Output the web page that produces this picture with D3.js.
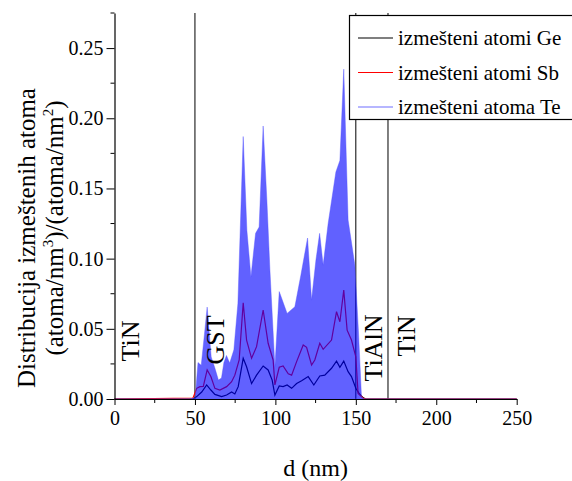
<!DOCTYPE html>
<html><head><meta charset="utf-8">
<script src="https://cdn.jsdelivr.net/npm/d3@7"></script>
<style>body{margin:0;background:#fff}svg{display:block}text{font-family:"Liberation Serif","Times New Roman",serif}</style>
</head><body>
<script>
// Te distribution (nm, value)
const teX = [0,46.9,50.2,51.9,53.9,55.9,57.6,60.1,62.4,64.6,66.5,68.0,69.6,71.6,74.2,76.7,80.0,82.3,84.8,87.7,89.9,92.4,94.7,96.6,99.7,102.4,107.3,112.1,115.8,120.0,122.5,125.2,127.5,129.7,132.8,137.6,140.1,142.5,145.2,147.5,149.4,151.6,153.5,155,250];
const teY = [0,0,0.001,0.026,0.024,0.046,0.0655,0.030,0.022,0.0135,0.015,0.026,0.031,0.0256,0.035,0.068,0.187,0.120,0.087,0.118,0.1225,0.1945,0.142,0.092,0.023,0.0765,0.061,0.0657,0.088,0.1147,0.0705,0.099,0.118,0.0954,0.125,0.1617,0.170,0.235,0.1275,0.11,0.0954,0.049,0.002,0,0];
// Sb distribution
const sbX = [0,48.8,51.1,53.1,55.2,57.6,59.9,62.4,65.5,69.7,72.8,74.8,77.5,80.0,82.1,85.2,88.3,92.4,95.5,98.6,99.7,102.4,104.8,108.0,110.1,113.2,117.3,119.4,122.5,124.5,127.6,129.7,134.9,138.0,140.1,142.5,144.6,147.3,150.0,151.4,154.5,156,250];
const sbY = [0,0.0007,0.0076,0.0088,0.009,0.0207,0.016,0.0076,0.0064,0.0088,0.0123,0.017,0.0278,0.0686,0.042,0.029,0.0373,0.0634,0.0397,0.0278,0.010,0.0226,0.0235,0.018,0.017,0.0266,0.0385,0.0368,0.0242,0.0278,0.0397,0.0354,0.042,0.0622,0.055,0.0776,0.049,0.042,0.030,0.004,0.0007,0,0];
// Ge distribution
const geX = [0,48.8,51.1,54.2,57.3,59.9,62.4,66.6,69.7,72.8,74.8,76.9,80.0,82.1,85.2,88.3,92.4,95.5,98.0,99.7,102.4,104.8,107.3,110.1,113.2,116.3,120.4,123.9,127.6,130.7,134.9,138.0,140.1,142.5,145.2,147.3,150.0,152.0,154.5,156,250];
const geY = [0,0,0.0017,0.005,0.010,0.0064,0.0033,0.0017,0.0028,0.005,0.0036,0.0088,0.029,0.023,0.011,0.017,0.0235,0.0207,0.0135,0.0028,0.0093,0.0088,0.010,0.0076,0.011,0.013,0.016,0.010,0.0164,0.017,0.0219,0.027,0.0226,0.027,0.0195,0.016,0.0076,0.004,0.001,0,0];

const xTicks = [0,50,100,150,200,250];
const yTicks = [0,0.05,0.10,0.15,0.20,0.25];
const boundaries = [50,150,170];
const regionLabels = ["TiN","GST","TiAlN","TiN"];
const legendLabels = ["izmešteni atomi Ge","izmešteni atomi Sb","izmešteni atoma Te"];

const W = 572, H = 481;
const m = {left:114.5, top:13, right:55.3, bottom:82};
const svg = d3.select("body").append("svg").attr("width",W).attr("height",H);
const x = d3.scaleLinear().domain([0,250]).range([m.left, W-m.right]);
const y = d3.scaleLinear().domain([0,0.275]).range([H-m.bottom, m.top]);

const pts = (xs,ys)=>xs.map((v,i)=>[v,ys[i]]);
const line = d3.line().x(d=>x(d[0])).y(d=>y(d[1]));
const area = d3.area().x(d=>x(d[0])).y0(y(0)).y1(d=>y(d[1]));

// boundary lines
svg.selectAll("line.b").data(boundaries).join("line")
  .attr("x1",d=>x(d)).attr("x2",d=>x(d)).attr("y1",y(0.275)).attr("y2",y(0))
  .attr("stroke","#000").attr("stroke-width",1);

svg.append("path").datum(pts(geX,geY)).attr("d",line).attr("fill","none").attr("stroke","#000").attr("stroke-width",1.2);
svg.append("path").datum(pts(sbX,sbY)).attr("d",line).attr("fill","none").attr("stroke","#f00").attr("stroke-width",1.2);
svg.append("path").datum(pts(teX,teY)).attr("d",area).attr("fill","rgb(0,0,255)").attr("fill-opacity",0.62)
  .attr("stroke","rgb(80,80,255)").attr("stroke-opacity",0.5).attr("stroke-width",0.8);

// axes
const xAxis = svg.append("g").attr("transform",`translate(0,${y(0)})`)
  .call(d3.axisBottom(x).tickValues(xTicks).tickFormat(d3.format("d")).tickSize(6).tickSizeOuter(0));
xAxis.append("g").selectAll("line").data([25,75,125,175,225]).join("line")
  .attr("x1",d=>x(d)).attr("x2",d=>x(d)).attr("y1",0).attr("y2",4).attr("stroke","#000");
const yAxis = svg.append("g").attr("transform",`translate(${x(0)},0)`)
  .call(d3.axisLeft(y).tickValues(yTicks).tickFormat(d3.format(".2f")).tickSize(8).tickSizeOuter(0));
yAxis.append("g").selectAll("line").data([0.025,0.075,0.125,0.175,0.225,0.275]).join("line")
  .attr("y1",d=>y(d)).attr("y2",d=>y(d)).attr("x1",0).attr("x2",-4).attr("stroke","#000");
[xAxis,yAxis].forEach(g=>{
  g.attr("font-family",null);
  g.selectAll(".domain").attr("stroke","#000").attr("stroke-width",1.2);
  g.selectAll("text").style("font-family","'Liberation Serif',serif").attr("font-size",20).attr("fill","#000");
});
xAxis.selectAll(".tick text").attr("dy","0.95em").attr("y",7);
yAxis.selectAll(".tick text").attr("x",-11);

// axis titles
svg.append("text").attr("x",x(125)).attr("y",476).attr("text-anchor","middle").attr("font-size",24).text("d (nm)");
const yt = svg.append("g");
yt.append("text").attr("transform","translate(35,238) rotate(-90)").attr("text-anchor","middle").attr("font-size",25)
  .text("Distribucija izmeštenih atoma");
const t2 = yt.append("text").attr("transform","translate(63,228) rotate(-90)").attr("text-anchor","middle").attr("font-size",25);
t2.append("tspan").text("(atoma/nm");
t2.append("tspan").attr("dy",-10).attr("font-size",15).text("3");
t2.append("tspan").attr("dy",10).text(")/(atoma/nm");
t2.append("tspan").attr("dy",-10).attr("font-size",15).text("2");
t2.append("tspan").attr("dy",10).text(")");

// region labels
const labelPos = [[139,341],[224,340],[382,348],[415,336]];
svg.selectAll("text.reg").data(regionLabels).join("text")
  .attr("transform",(d,i)=>`translate(${labelPos[i][0]},${labelPos[i][1]}) rotate(-90)`)
  .attr("text-anchor","middle").attr("font-size",26).text(d=>d);

// legend
const lg = svg.append("g");
lg.append("rect").attr("x",349.5).attr("y",15.5).attr("width",240).attr("height",104).attr("fill","#fff").attr("stroke","#000").attr("stroke-width",1.2);
const lc = ["#000","#f00","rgb(110,110,255)"];
legendLabels.forEach((t,i)=>{
  const yy = 38 + i*34.5;
  lg.append("line").attr("x1",358).attr("x2",393).attr("y1",yy).attr("y2",yy).attr("stroke",lc[i]).attr("stroke-width",1.2);
  lg.append("text").attr("x",398).attr("y",yy+7).attr("font-size",21).text(t);
});
</script>
</body></html>
